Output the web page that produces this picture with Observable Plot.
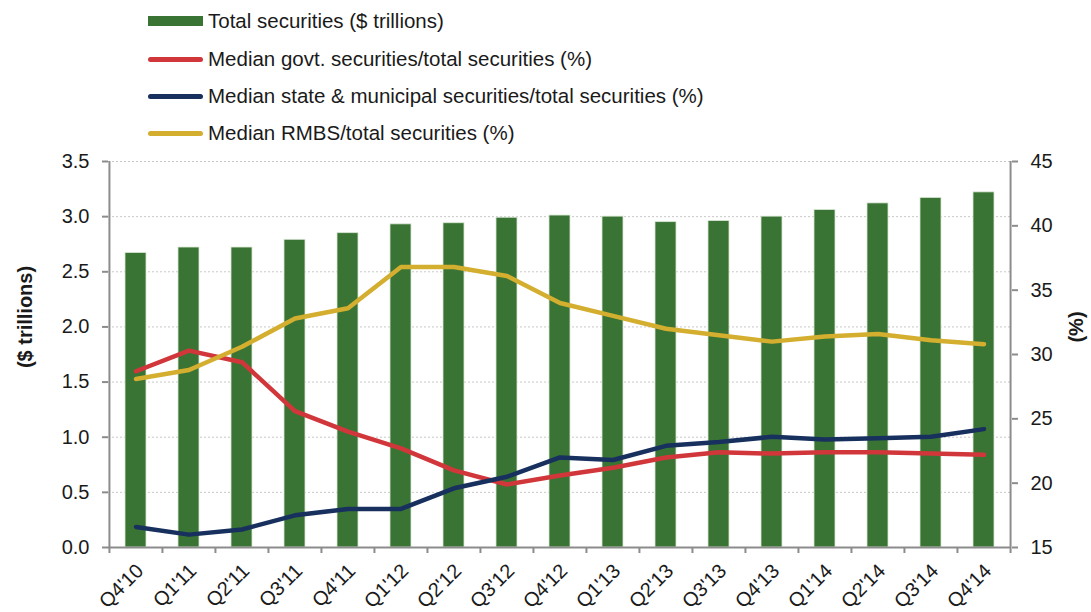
<!DOCTYPE html>
<html>
<head>
<meta charset="utf-8">
<script src="https://cdn.jsdelivr.net/npm/d3@7"></script>
<script src="https://cdn.jsdelivr.net/npm/@observablehq/plot@0.6"></script>
<style>
  html, body { margin: 0; padding: 0; background: #fff; }
  #wrap { position: relative; width: 1091px; height: 612px; font-family: "Liberation Sans", Arial, sans-serif; color: #1a1a1a; }
  #legend { position: absolute; left: 0; top: 0; }
  .item { position: absolute; left: 148px; height: 22px; display: flex; align-items: center; font-size: 20.5px; white-space: nowrap; }
  .sw { width: 55px; margin-right: 5px; }
  .ytitle { position: absolute; font-weight: bold; font-size: 20px; white-space: nowrap; transform: translate(-50%, -50%) rotate(-90deg); }
</style>
</head>
<body>
<div id="wrap"></div>
<script>
const quarters = ["Q4'10","Q1'11","Q2'11","Q3'11","Q4'11","Q1'12","Q2'12","Q3'12","Q4'12","Q1'13","Q2'13","Q3'13","Q4'13","Q1'14","Q2'14","Q3'14","Q4'14"];
const totalSecurities = [2.67,2.72,2.72,2.79,2.85,2.93,2.94,2.99,3.01,3.00,2.95,2.96,3.00,3.06,3.12,3.17,3.22];
const govtPct = [28.7,30.3,29.4,25.6,24.0,22.7,21.0,19.9,20.6,21.2,22.0,22.4,22.3,22.4,22.4,22.3,22.2];
const muniPct = [16.6,16.0,16.4,17.5,18.0,18.0,19.6,20.5,22.0,21.8,22.9,23.2,23.6,23.4,23.5,23.6,24.2];
const rmbsPct = [28.1,28.8,30.6,32.8,33.6,36.8,36.8,36.1,34.0,33.0,32.0,31.5,31.0,31.4,31.6,31.1,30.8];
const leftTicks = [0,0.5,1.0,1.5,2.0,2.5,3.0,3.5];
const rightTicks = [15,20,25,30,35,40,45];
const seriesNames = ["Total securities ($ trillions)","Median govt. securities/total securities (%)","Median state & municipal securities/total securities (%)","Median RMBS/total securities (%)"];
const seriesColors = ["#3a7434","#d1373a","#17305e","#d4ae2e"];

const leftMax = 3.5, rMin = 15, rMax = 45;
const toLeft = p => (p - rMin) / (rMax - rMin) * leftMax;
const fromLeft = v => v / leftMax * (rMax - rMin) + rMin;

const bars = quarters.map((q, i) => ({q, v: totalSecurities[i]}));
const lines = [];
[govtPct, muniPct, rmbsPct].forEach((arr, s) => arr.forEach((p, i) => lines.push({q: quarters[i], v: toLeft(p), s: seriesNames[s + 1]})));

const W = 1091, H = 612, mL = 108, mR = 80;
const step = (W - mL - mR) / quarters.length;
const gray = "#8c8c8c";

const chart = Plot.plot({
  width: W, height: H,
  marginTop: 161, marginBottom: 65, marginLeft: mL, marginRight: mR,
  style: {fontSize: "20px", fontFamily: "Liberation Sans, Arial, sans-serif", color: "#1a1a1a", background: "#fff", overflow: "visible"},
  x: {domain: quarters, type: "band", paddingInner: 0.6, paddingOuter: 0.3},
  y: {domain: [0, leftMax]},
  color: {domain: seriesNames.slice(1), range: seriesColors.slice(1)},
  marks: [
    Plot.gridY(leftTicks, {stroke: "#c8c8c8", strokeOpacity: 1, strokeDasharray: "2,2"}),
    Plot.barY(bars, {x: "q", y: "v", fill: seriesColors[0], stroke: "#d9e6d4", strokeWidth: 0.8}),
    Plot.lineY(lines, {x: "q", y: "v", z: "s", stroke: "s", strokeWidth: 4.5, strokeLinejoin: "round", strokeLinecap: "round"}),
    Plot.axisY(leftTicks, {anchor: "left", label: null, tickSize: 6, tickPadding: 13, stroke: gray, strokeWidth: 2, tickFormat: d => d.toFixed(1), fill: "#1a1a1a"}),
    Plot.axisY(rightTicks.map(toLeft), {anchor: "right", label: null, tickSize: 6, tickPadding: 13, stroke: gray, strokeWidth: 2, tickFormat: v => String(Math.round(fromLeft(v))), fill: "#1a1a1a"}),
    Plot.axisX({label: null, tickSize: 6, stroke: gray, strokeWidth: 2, dx: -step / 2, tickFormat: null}),
    Plot.axisX([quarters[quarters.length - 1]], {label: null, tickSize: 6, stroke: gray, strokeWidth: 2, dx: step / 2, tickFormat: null}),
    Plot.axisX({label: null, tickSize: 0, tickPadding: 20, tickRotate: -45, fill: "#1a1a1a", dx: 4}),
    Plot.ruleY([0], {stroke: gray, strokeWidth: 2}),
    Plot.ruleX([quarters[0]], {stroke: gray, strokeWidth: 2, dx: -step / 2}),
    Plot.ruleX([quarters[quarters.length - 1]], {stroke: gray, strokeWidth: 2, dx: step / 2})
  ]
});

const wrap = document.getElementById("wrap");
wrap.appendChild(chart);

const legend = document.createElement("div");
legend.id = "legend";
const rowTops = [10, 48, 85, 122];
seriesNames.forEach((name, i) => {
  const it = document.createElement("div");
  it.className = "item";
  it.style.top = rowTops[i] + "px";
  const sw = document.createElement("div");
  sw.className = "sw";
  if (i === 0) { sw.style.height = "10px"; sw.style.background = seriesColors[0]; }
  else { sw.style.height = "5px"; sw.style.borderRadius = "2.5px"; sw.style.background = seriesColors[i]; }
  const t = document.createElement("span");
  t.textContent = name;
  it.appendChild(sw); it.appendChild(t);
  legend.appendChild(it);
});
wrap.appendChild(legend);

const t1 = document.createElement("div");
t1.className = "ytitle"; t1.textContent = "($ trillions)";
t1.style.left = "25px"; t1.style.top = "317px";
wrap.appendChild(t1);
const t2 = document.createElement("div");
t2.className = "ytitle"; t2.textContent = "(%)";
t2.style.left = "1076px"; t2.style.top = "327px";
wrap.appendChild(t2);
</script>
</body>
</html>
